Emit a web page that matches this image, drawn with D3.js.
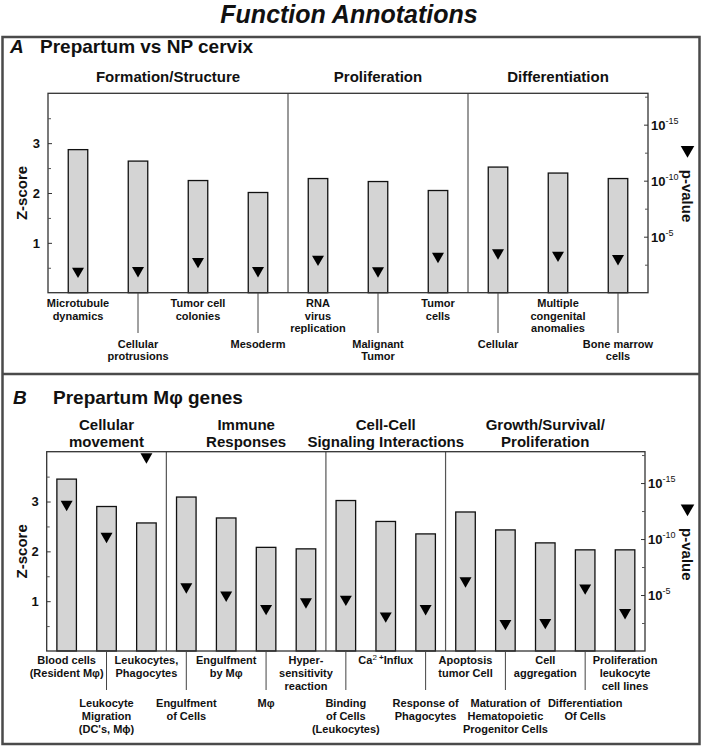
<!DOCTYPE html>
<html><head><meta charset="utf-8">
<script src="https://cdn.jsdelivr.net/npm/d3@7"></script>
<style>
body{margin:0;background:#fff}
text{font-family:"Liberation Sans",Arial,sans-serif;font-weight:bold;fill:#111}
</style>
</head><body>
<svg id="chart" width="702" height="747"></svg>
<script>
// ---------------- DATA ----------------
const chartTitle = "Function Annotations";

const panelATitle = "Prepartum vs NP cervix";
const panelAGroups = [["Formation/Structure"], ["Proliferation"], ["Differentiation"]];
const panelAGroupSizes = [4, 3, 3];
const panelALabels = [
  ["Microtubule", "dynamics"],
  ["Cellular", "protrusions"],
  ["Tumor  cell", "colonies"],
  ["Mesoderm"],
  ["RNA", "virus", "replication"],
  ["Malignant", "Tumor"],
  ["Tumor", "cells"],
  ["Cellular"],
  ["Multiple", "congenital", "anomalies"],
  ["Bone marrow", "cells"]
];
const panelAZ = [2.87, 2.64, 2.25, 2.01, 2.29, 2.23, 2.05, 2.52, 2.40, 2.29];
const panelALogP = [1.92, 1.98, 2.79, 1.98, 2.99, 1.96, 3.25, 3.56, 3.35, 3.05];

const panelBTitle = "Prepartum Mφ genes";
const panelBGroups = [["Cellular", "movement"], ["Immune", "Responses"], ["Cell-Cell", "Signaling Interactions"], ["Growth/Survival/", "Proliferation"]];
const panelBGroupSizes = [3, 4, 3, 5];
const panelBLabels = [
  ["Blood cells", "(Resident Mφ)"],
  ["Leukocyte", "Migration", "(DC's, Mϕ)"],
  ["Leukocytes,", "Phagocytes"],
  ["Engulfment", "of Cells"],
  ["Engulfment", "by Mφ"],
  ["Mφ"],
  ["Hyper-", "sensitivity", "reaction"],
  ["Binding", "of Cells", "(Leukocytes)"],
  ["CA2PLUS"],
  ["Response of", "Phagocytes"],
  ["Apoptosis", "tumor Cell"],
  ["Maturation of", "Hematopoietic", "Progenitor Cells"],
  ["Cell", "aggregation"],
  ["Differentiation", "Of Cells"],
  ["Proliferation", "leukocyte", "cell lines"]
];
const panelBZ = [3.45, 2.90, 2.57, 3.09, 2.67, 2.08, 2.05, 3.02, 2.60, 2.35, 2.79, 2.43, 2.17, 2.03, 2.03];
const panelBLogP = [13.1, 10.25, 17.35, 5.74, 5.0, 3.81, 4.40, 4.63, 3.14, 3.79, 6.27, 2.46, 2.56, 5.64, 3.44];

const zTicks = [1, 2, 3];
const zMinorTicks = [0.5, 1.5, 2.5, 3.5];
const zDomain = [0, 4];
const pTicks = [5, 10, 15];
const pMinorTicks = [2.5, 7.5, 12.5, 17.5];
const pDomain = [0, 17.8];

// ---------------- DRAW ----------------
const svg = d3.select("#chart");

svg.append("text").attr("x", 349).attr("y", 23).attr("text-anchor", "middle")
  .style("font-size", "25px").style("font-style", "italic").text(chartTitle);

// outer frame
svg.append("rect").attr("x", 2.5).attr("y", 37).attr("width", 697).attr("height", 707)
  .attr("fill", "none").attr("stroke", "#4a4a4a").attr("stroke-width", 2.5);
svg.append("line").attr("x1", 2.5).attr("x2", 699.5).attr("y1", 374).attr("y2", 374)
  .attr("stroke", "#4a4a4a").attr("stroke-width", 2.5);

function drawPanel(cfg) {
  const g = svg.append("g");
  const n = cfg.z.length;
  const idx = d3.range(n);
  const x = d3.scaleBand().domain(idx).range([cfg.left, cfg.right])
    .paddingInner(cfg.pad).paddingOuter(cfg.pad / 2);
  const y = d3.scaleLinear().domain(zDomain).range([cfg.bottom, cfg.top]);
  const yp = d3.scaleLinear().domain(pDomain).range([cfg.bottom, cfg.top]);

  // panel title
  g.append("text").attr("x", cfg.letterX).attr("y", cfg.titleY)
    .style("font-size", "19px").style("font-style", "italic").text(cfg.letter);
  g.append("text").attr("x", cfg.titleX).attr("y", cfg.titleY)
    .style("font-size", "19px").text(cfg.title);

  // groups
  let start = 0;
  const bounds = [];
  cfg.groupSizes.forEach((s) => {
    const x0 = x(start) - x.step() * x.paddingInner() / 2;
    const x1 = x(start + s - 1) + x.bandwidth() + x.step() * x.paddingInner() / 2;
    bounds.push([x0, x1]);
    start += s;
  });
  bounds.forEach((b, i) => {
    const lines = cfg.groups[i];
    lines.forEach((l, j) => {
      g.append("text").attr("x", (b[0] + b[1]) / 2)
        .attr("y", cfg.headerY + j * 17 - (lines.length - 1) * 17)
        .attr("text-anchor", "middle").style("font-size", "15px").text(l);
    });
    if (i > 0) {
      g.append("line").attr("x1", b[0]).attr("x2", b[0]).attr("y1", cfg.top).attr("y2", cfg.bottom)
        .attr("stroke", "#555").attr("stroke-width", 1.2);
    }
  });

  // bars
  g.selectAll("rect.bar").data(idx).join("rect").attr("class", "bar")
    .attr("x", i => x(i)).attr("width", x.bandwidth())
    .attr("y", i => y(cfg.z[i])).attr("height", i => y(0) - y(cfg.z[i]))
    .attr("fill", "#d4d4d4").attr("stroke", "#111").attr("stroke-width", 1.3);

  // frame
  g.append("rect").attr("x", cfg.left).attr("y", cfg.top)
    .attr("width", cfg.right - cfg.left).attr("height", cfg.bottom - cfg.top)
    .attr("fill", "none").attr("stroke", "#333").attr("stroke-width", 1.3);

  // triangles
  const tri = d3.symbol().type(d3.symbolTriangle).size(62);
  g.selectAll("path.tri").data(idx).join("path").attr("class", "tri")
    .attr("d", tri)
    .attr("transform", i => `translate(${x(i) + x.bandwidth() / 2},${yp(cfg.logp[i])}) rotate(180)`)
    .attr("fill", "#000");

  // left axis
  const la = g.append("g").attr("transform", `translate(${cfg.left},0)`)
    .call(d3.axisLeft(y).tickValues(zTicks).tickSize(-4).tickPadding(8).tickFormat(d3.format("d")));
  la.select(".domain").remove();
  la.selectAll("line").attr("stroke", "#333");
  la.selectAll("text").style("font-size", "13px").attr("font-family", null);
  g.append("g").attr("transform", `translate(${cfg.left},0)`)
    .call(d3.axisLeft(y).tickValues(zMinorTicks).tickSize(-3).tickFormat(""))
    .call(a => { a.select(".domain").remove(); a.selectAll("line").attr("stroke", "#555"); });

  g.append("text").attr("transform", `translate(27,${(cfg.top + cfg.bottom) / 2}) rotate(-90)`)
    .attr("text-anchor", "middle").style("font-size", "15px").text("Z-score");

  // right axis
  const ra = g.append("g").attr("transform", `translate(${cfg.right},0)`)
    .call(d3.axisRight(yp).tickValues(pTicks).tickSize(-4).tickFormat(""));
  ra.select(".domain").remove();
  ra.selectAll("line").attr("stroke", "#333");
  g.append("g").attr("transform", `translate(${cfg.right},0)`)
    .call(d3.axisRight(yp).tickValues(pMinorTicks).tickSize(-3).tickFormat(""))
    .call(a => { a.select(".domain").remove(); a.selectAll("line").attr("stroke", "#555"); });
  pTicks.forEach(t => {
    const tx = g.append("text").attr("x", cfg.right + 3).attr("y", yp(t) + 5).style("font-size", "13px");
    tx.append("tspan").text("10");
    tx.append("tspan").attr("dy", -6).style("font-size", "9px").style("font-weight", "normal").text("-" + t);
  });

  const pmid = (cfg.top + cfg.bottom) / 2 + 3;
  g.append("text").attr("transform", `translate(682,${pmid}) rotate(90)`)
    .attr("text-anchor", "middle").style("font-size", "15px").text("p-value");
  g.append("path").attr("d", d3.symbol().type(d3.symbolTriangle).size(80))
    .attr("transform", `translate(687.5,${pmid - 46}) rotate(180)`).attr("fill", "#000");

  // category labels
  idx.forEach(i => {
    const cx = x(i) + x.bandwidth() / 2;
    const far = i % 2 === 1;
    const base = far ? cfg.farY : cfg.nearY;
    if (far) {
      g.append("line").attr("x1", cx).attr("x2", cx).attr("y1", cfg.bottom).attr("y2", cfg.leaderEnd)
        .attr("stroke", "#444").attr("stroke-width", 1);
    }
    cfg.labels[i].forEach((l, j) => {
      const t = g.append("text").attr("x", cx).attr("y", base + j * cfg.lineH)
        .attr("text-anchor", "middle").style("font-size", "11px");
      if (l === "CA2PLUS") {
        t.append("tspan").text("Ca");
        t.append("tspan").attr("dy", -4).style("font-size", "8px").style("font-weight", "normal").text("2 ");
        t.append("tspan").attr("dy", 0).style("font-size", "8px").text("+");
        t.append("tspan").attr("dy", 4).text("Influx");
      } else {
        t.text(l);
      }
    });
  });
}

drawPanel({
  letter: "A", title: panelATitle, letterX: 10, titleX: 40, titleY: 53,
  groups: panelAGroups, groupSizes: panelAGroupSizes, labels: panelALabels,
  z: panelAZ, logp: panelALogP,
  left: 48, right: 648, top: 93.3, bottom: 292.7, pad: 0.675,
  headerY: 82, nearY: 307, farY: 347.5, lineH: 12.7, leaderEnd: 333
});

drawPanel({
  letter: "B", title: panelBTitle, letterX: 13, titleX: 53, titleY: 404,
  groups: panelBGroups, groupSizes: panelBGroupSizes, labels: panelBLabels,
  z: panelBZ, logp: panelBLogP,
  left: 46.7, right: 645, top: 451.7, bottom: 651, pad: 0.51,
  headerY: 447, nearY: 663.5, farY: 706.5, lineH: 13.2, leaderEnd: 690
});
</script>
</body></html>
